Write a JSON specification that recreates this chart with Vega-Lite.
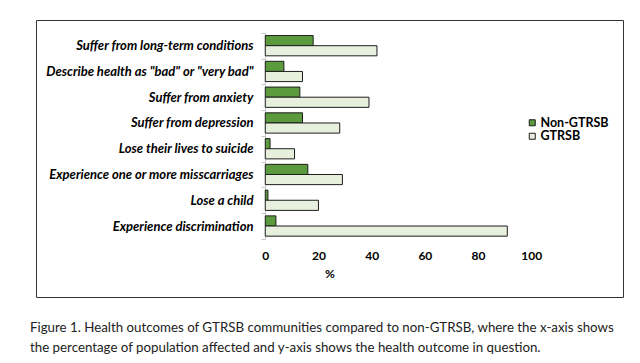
{
  "$schema": "https://vega.github.io/schema/vega-lite/v6.json",
  "width": 587,
  "height": 277,
  "padding": {"left": 36, "top": 20, "right": 17, "bottom": 66},
  "autosize": {"type": "none"},
  "background": "white",
  "title": {
    "text": ["Figure 1. Health outcomes of GTRSB communities compared to non-GTRSB, where the x-axis shows", "the percentage of population affected and y-axis shows the health outcome in question."],
    "orient": "bottom",
    "anchor": "start",
    "frame": "group",
    "offset": 24,
    "font": "Lato",
    "fontSize": 13.3,
    "fontWeight": "normal",
    "color": "#222222",
    "lineHeight": 20,
    "dx": -6
  },
  "data": {
    "values": [
      {"outcome": "Suffer from long-term conditions", "group": "Non-GTRSB", "pct": 18},
      {"outcome": "Suffer from long-term conditions", "group": "GTRSB", "pct": 42},
      {"outcome": "Describe health as \"bad\" or \"very bad\"", "group": "Non-GTRSB", "pct": 7},
      {"outcome": "Describe health as \"bad\" or \"very bad\"", "group": "GTRSB", "pct": 14},
      {"outcome": "Suffer from anxiety", "group": "Non-GTRSB", "pct": 13},
      {"outcome": "Suffer from anxiety", "group": "GTRSB", "pct": 39},
      {"outcome": "Suffer from depression", "group": "Non-GTRSB", "pct": 14},
      {"outcome": "Suffer from depression", "group": "GTRSB", "pct": 28},
      {"outcome": "Lose their lives to suicide", "group": "Non-GTRSB", "pct": 1.8},
      {"outcome": "Lose their lives to suicide", "group": "GTRSB", "pct": 11},
      {"outcome": "Experience one or more misscarriages", "group": "Non-GTRSB", "pct": 16},
      {"outcome": "Experience one or more misscarriages", "group": "GTRSB", "pct": 29},
      {"outcome": "Lose a child", "group": "Non-GTRSB", "pct": 1},
      {"outcome": "Lose a child", "group": "GTRSB", "pct": 20},
      {"outcome": "Experience discrimination", "group": "Non-GTRSB", "pct": 4},
      {"outcome": "Experience discrimination", "group": "GTRSB", "pct": 91}
    ]
  },
  "mark": {"type": "bar", "stroke": "#1e1e1e", "strokeWidth": 1},
  "encoding": {
    "y": {
      "field": "outcome",
      "type": "nominal",
      "sort": null,
      "scale": {"range": [12.8, 218.9], "paddingInner": 0, "paddingOuter": 0},
      "axis": {
        "title": null,
        "offset": -229,
        "domain": true,
        "domainColor": "#c8c8c8",
        "ticks": true,
        "tickBand": "extent",
        "tickSize": 4,
        "tickColor": "#c8c8c8",
        "labelPadding": 8,
        "labelFont": "Lato",
        "labelFontSize": 13,
        "labelFontWeight": "bold",
        "labelFontStyle": "italic",
        "labelColor": "#000000",
        "labelLimit": 300
      }
    },
    "yOffset": {
      "field": "group",
      "type": "nominal",
      "sort": ["Non-GTRSB", "GTRSB"],
      "scale": {"paddingInner": 0, "paddingOuter": 0.27}
    },
    "x": {
      "field": "pct",
      "type": "quantitative",
      "scale": {"domain": [-86.2, 134.5], "nice": false, "zero": false},
      "axis": {
        "title": "%",
        "offset": -57,
        "values": [0, 20, 40, 60, 80, 100],
        "domain": false,
        "ticks": false,
        "grid": false,
        "labelPadding": 10,
        "labelFont": "Lato",
        "labelFontSize": 12,
        "labelFontWeight": "bold",
        "labelColor": "#000000",
        "titleFont": "Lato",
        "titleFontSize": 12,
        "titleFontWeight": "bold",
        "titleColor": "#000000",
        "titlePadding": 7
      }
    },
    "fill": {
      "field": "group",
      "type": "nominal",
      "sort": ["Non-GTRSB", "GTRSB"],
      "scale": {"domain": ["Non-GTRSB", "GTRSB"], "range": ["#5b9a3d", "#e6f0dc"]},
      "legend": {
        "title": null,
        "orient": "none",
        "legendX": 490,
        "legendY": 96.5,
        "symbolType": "square",
        "symbolSize": 36,
        "symbolStrokeColor": "#1e1e1e",
        "symbolStrokeWidth": 1,
        "labelFont": "Lato",
        "labelFontSize": 12.5,
        "labelFontWeight": "bold",
        "labelColor": "#000000",
        "labelOffset": 2,
        "rowPadding": 0.5
      }
    }
  },
  "config": {
    "view": {"stroke": "#333333", "strokeWidth": 1}
  }
}
